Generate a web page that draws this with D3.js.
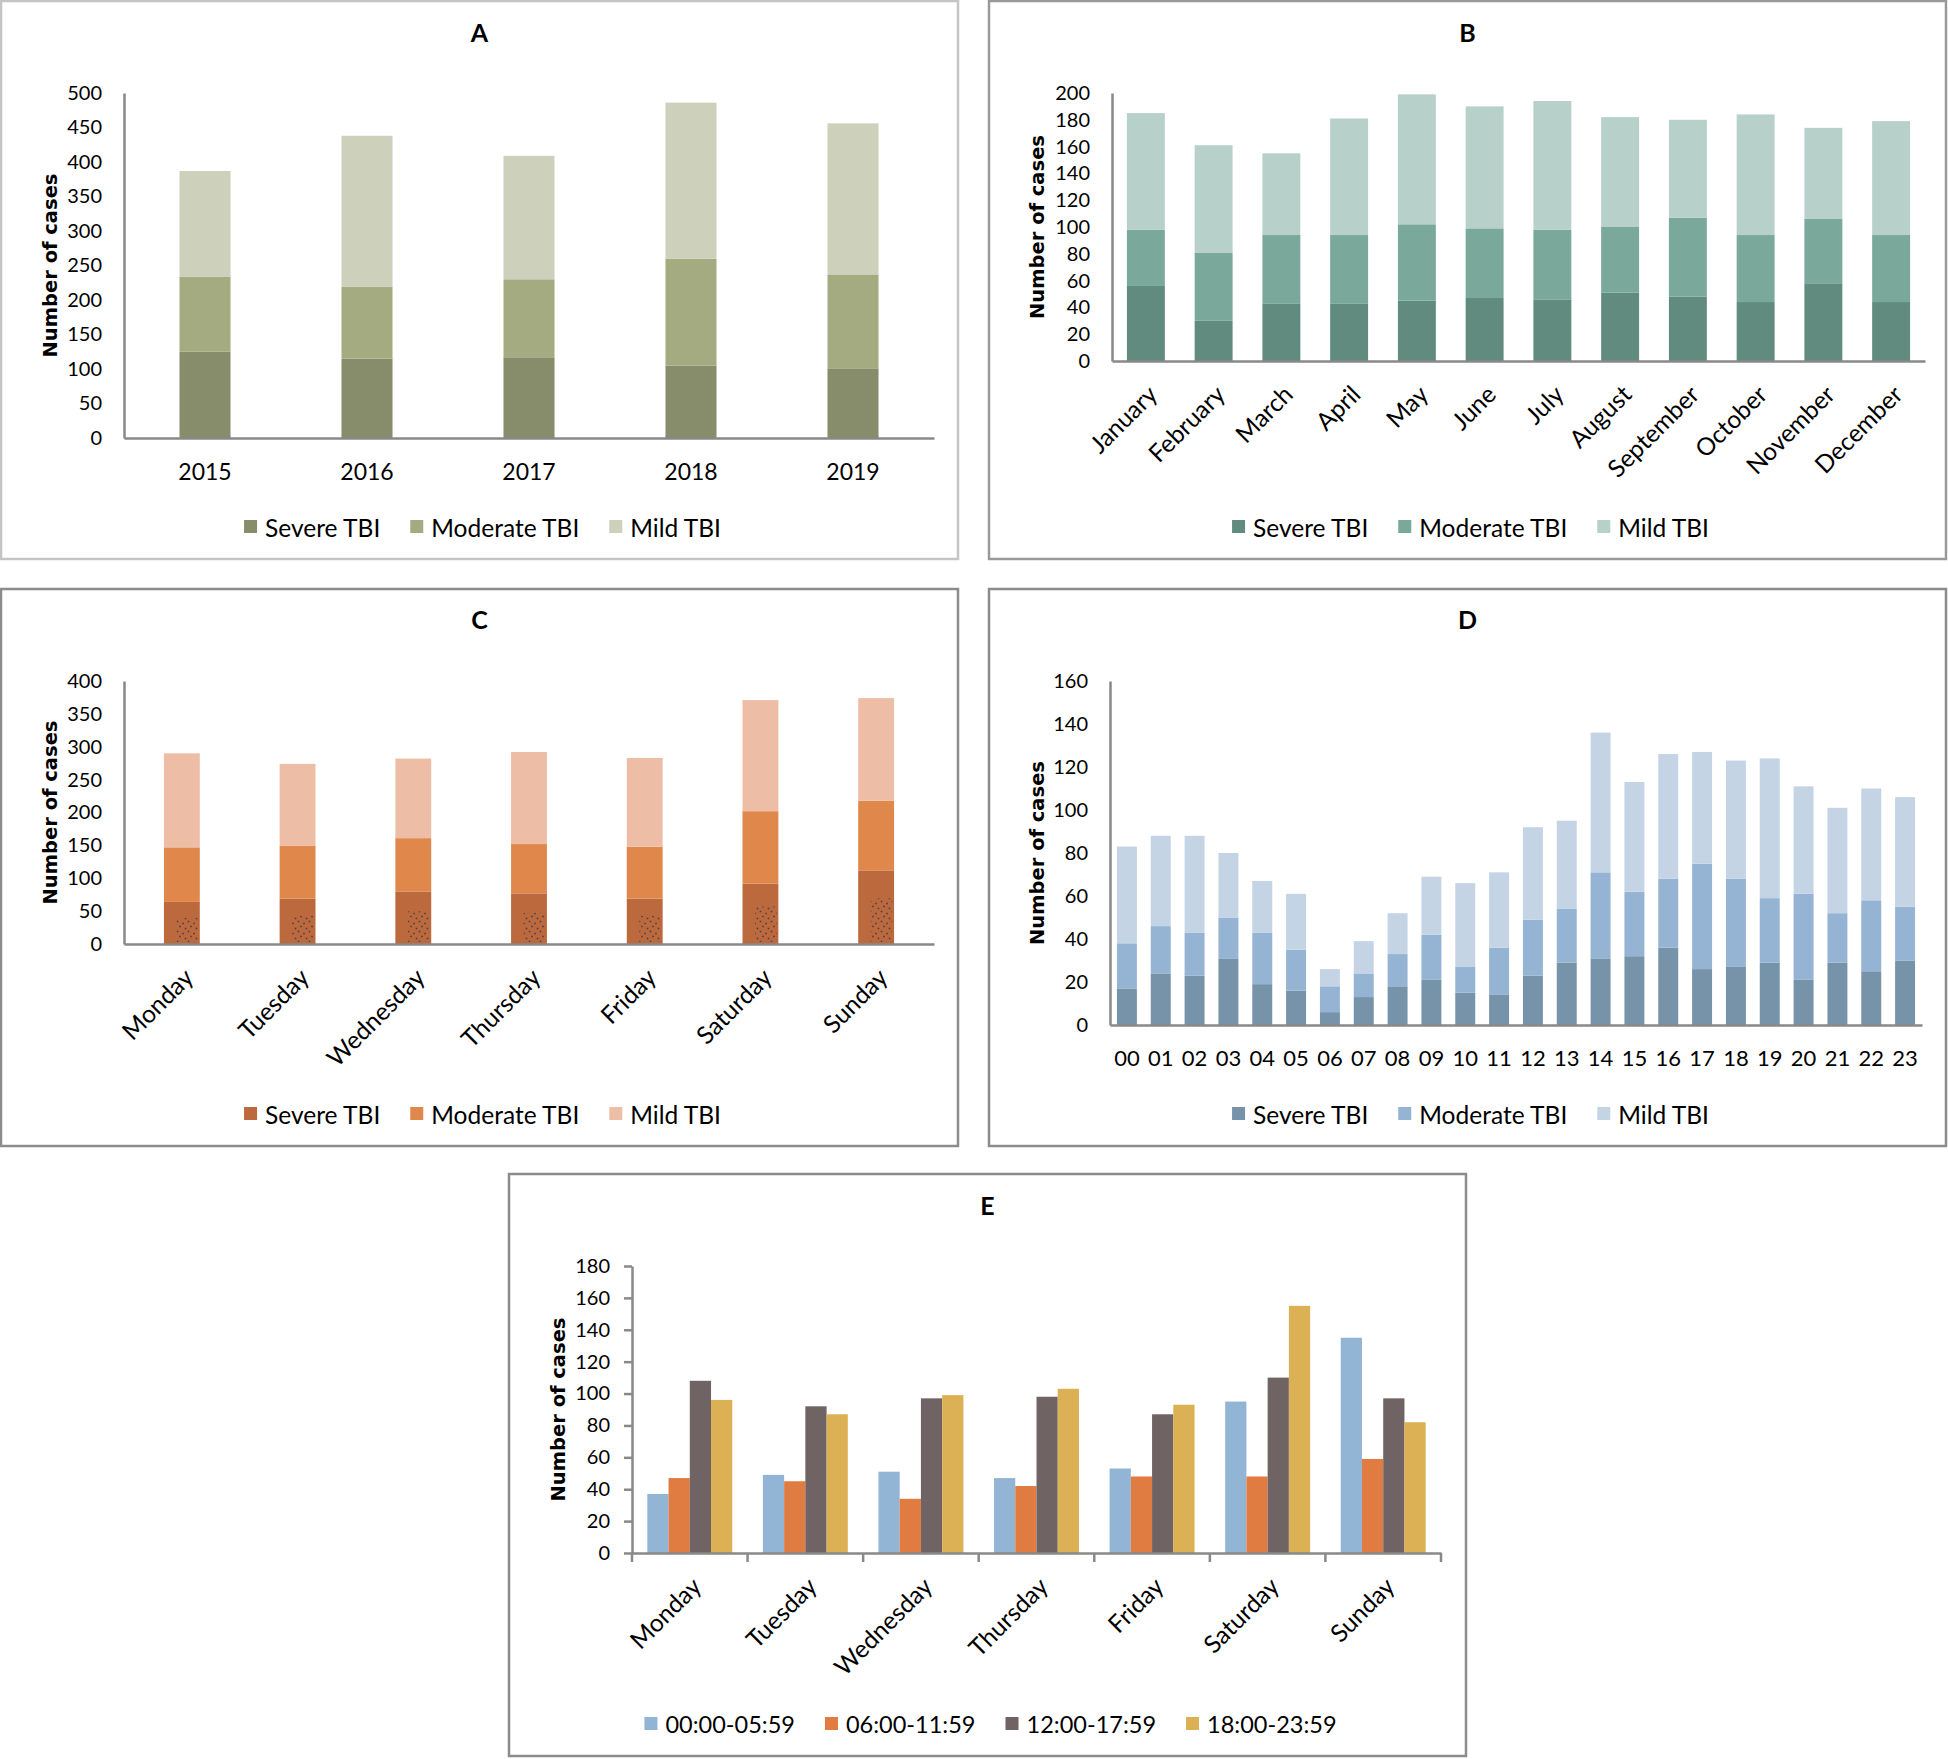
<!DOCTYPE html>
<html><head><meta charset="utf-8">
<script src="https://cdn.jsdelivr.net/npm/d3@7"></script>
<style>
body{margin:0;background:#fff}
text{fill:#000}
</style>
</head><body>
<svg id="c" width="1948" height="1759"></svg>
<script>
// ---------- DATA ----------
const tbiLabels = ["Severe TBI", "Moderate TBI", "Mild TBI"];

const yearCats = ["2015", "2016", "2017", "2018", "2019"];
const yearSevere = [125, 115, 117, 105, 101];
const yearModerate = [109, 104, 113, 155, 136];
const yearMild = [153, 219, 179, 226, 219];

const monthCats = ["January", "February", "March", "April", "May", "June", "July", "August", "September", "October", "November", "December"];
const monthSevere = [56, 30, 43, 43, 45, 47, 46, 51, 48, 44, 58, 44];
const monthModerate = [42, 51, 51, 51, 57, 52, 52, 49, 59, 50, 48, 50];
const monthMild = [87, 80, 61, 87, 97, 91, 96, 82, 73, 90, 68, 85];

const dayCats = ["Monday", "Tuesday", "Wednesday", "Thursday", "Friday", "Saturday", "Sunday"];
const daySevere = [64, 69, 80, 77, 69, 92, 112];
const dayModerate = [83, 80, 81, 75, 79, 110, 106];
const dayMild = [143, 125, 121, 140, 135, 169, 156];

const hourCats = ["00","01","02","03","04","05","06","07","08","09","10","11","12","13","14","15","16","17","18","19","20","21","22","23"];
const hourSevere = [17,24,23,31,19,16,6,13,18,21,15,14,23,29,31,32,36,26,27,29,21,29,25,30];
const hourModerate = [21,22,20,19,24,19,12,11,15,21,12,22,26,25,40,30,32,49,41,30,40,23,33,25];
const hourMild = [45,42,45,30,24,26,8,15,19,27,39,35,43,41,65,51,58,52,55,65,50,49,52,51];

const periodLabels = ["00:00-05:59", "06:00-11:59", "12:00-17:59", "18:00-23:59"];
const periodNight = [37, 49, 51, 47, 53, 95, 135];
const periodMorning = [47, 45, 34, 42, 48, 48, 59];
const periodAfternoon = [108, 92, 97, 98, 87, 110, 97];
const periodEvening = [96, 87, 99, 103, 93, 155, 82];

// ---------- DRAWING ----------
const FONT = "Lato,'Liberation Sans',sans-serif";
const svg = d3.select("#c");
const defs = svg.append("defs");
const pat = defs.append("pattern").attr("id","dots").attr("patternUnits","userSpaceOnUse")
  .attr("width",11).attr("height",10);
[[1.5,1.5],[7,3.5],[4,6.5],[9.5,8.5]].forEach(([cx,cy])=>
  pat.append("rect").attr("x",cx-0.8).attr("y",cy-0.8).attr("width",1.6).attr("height",1.6).attr("fill","#2b3552"));

function legend(g, labels, colors, cx, cy, fs){
  const lg = g.append("g");
  let xpos = 0;
  labels.forEach((l,i)=>{
    const it = lg.append("g").attr("transform",`translate(${xpos},0)`);
    it.append("rect").attr("x",0).attr("y",-7).attr("width",13).attr("height",13).attr("fill",colors[i]);
    const t = it.append("text").attr("x",21).attr("y",0).attr("dominant-baseline","central")
      .style("font-family",FONT).attr("font-size",fs).text(l);
    xpos += 21 + t.node().getComputedTextLength() + 30;
  });
  const total = xpos - 30;
  lg.attr("transform",`translate(${cx - total/2},${cy})`);
}

function drawPanel(cfg){
  const g = svg.append("g");
  const [bx,by,bw,bh] = cfg.box;
  g.append("rect").attr("x",bx).attr("y",by).attr("width",bw).attr("height",bh)
    .attr("fill","#fff").attr("stroke",cfg.border).attr("stroke-width",2.5);
  g.append("text").attr("x",bx+bw/2).attr("y",cfg.titleY).attr("text-anchor","middle")
    .attr("dominant-baseline","central").style("font-family",FONT)
    .attr("font-weight","bold").attr("font-size",25).text(cfg.title);

  const p = cfg.plot;
  const x = d3.scaleBand().domain(cfg.cats).range([p.l, p.r]);
  const y = d3.scaleLinear().domain([0, cfg.yMax]).range([p.b, p.t]);

  if (cfg.stacked){
    const rows = cfg.cats.map((c,i)=>{const o={cat:c}; cfg.keys.forEach((k,j)=>o[k]=cfg.series[j][i]); return o;});
    const stacked = d3.stack().keys(cfg.keys)(rows);
    const w = x.bandwidth()*cfg.barRatio;
    const off = (x.bandwidth()-w)/2;
    g.append("g").selectAll("g").data(stacked).join("g").attr("fill",(d,i)=>cfg.colors[i])
      .selectAll("rect").data(d=>d).join("rect")
      .attr("x",d=>x(d.data.cat)+off).attr("width",w)
      .attr("y",d=>y(d[1])).attr("height",d=>y(d[0])-y(d[1]));
    if (cfg.texture){
      g.append("g").selectAll("rect").data(stacked[0]).join("rect")
        .attr("x",d=>x(d.data.cat)+off+w*0.35).attr("width",w*0.6)
        .attr("y",d=>y(d[1]*0.62)).attr("height",d=>y(0)-y(d[1]*0.62)-2)
        .attr("fill","url(#dots)").attr("opacity",0.8);
    }
  } else {
    const gw = x.bandwidth()*cfg.groupRatio;
    const x1 = d3.scaleBand().domain(cfg.keys).range([0, gw]);
    const off = (x.bandwidth()-gw)/2;
    const rows = cfg.cats.map((c,i)=>cfg.keys.map((k,j)=>({cat:c,key:k,v:cfg.series[j][i],j})));
    g.append("g").selectAll("g").data(rows).join("g")
      .attr("transform",d=>`translate(${x(d[0].cat)+off},0)`)
      .selectAll("rect").data(d=>d).join("rect")
      .attr("x",d=>x1(d.key)).attr("width",x1.bandwidth())
      .attr("y",d=>y(d.v)).attr("height",d=>y(0)-y(d.v))
      .attr("fill",d=>cfg.colors[d.j]);
  }

  // y axis
  const ts = cfg.yTick || 0;
  const ya = g.append("g").attr("transform",`translate(${p.l},0)`)
    .call(d3.axisLeft(y).tickValues(d3.range(0, cfg.yMax+1, cfg.yStep)).tickSize(ts).tickSizeOuter(0).tickPadding(22-ts));
  ya.select(".domain").attr("stroke","#898989").attr("stroke-width",2.5);
  ya.selectAll(".tick line").attr("stroke","#898989").attr("stroke-width",2.5);
  ya.selectAll("text").attr("font-size",20).style("font-family",FONT).attr("fill","#000");

  // x axis
  const xa = g.append("g").attr("transform",`translate(0,${p.b})`)
    .call(d3.axisBottom(x).tickSize(0).tickSizeOuter(0));
  xa.select(".domain").attr("stroke","#898989").attr("stroke-width",2.5);
  const xt = xa.selectAll("text").attr("font-size",cfg.xFont).style("font-family",FONT).attr("fill","#000");
  if (cfg.rotate){
    xt.attr("y",0).attr("dy","0.35em").attr("text-anchor","end")
      .attr("transform","translate(7,29) rotate(-45)");
  } else {
    xt.attr("y",cfg.xLabelDy).attr("dy","0.35em");
  }
  if (cfg.sepTicks){
    g.append("g").selectAll("line").data(d3.range(cfg.cats.length+1)).join("line")
      .attr("x1",i=>p.l+i*x.step()).attr("x2",i=>p.l+i*x.step())
      .attr("y1",p.b).attr("y2",p.b+9).attr("stroke","#898989").attr("stroke-width",2.5);
  }

  // y label
  g.append("text").attr("transform",`translate(${cfg.yLabelX},${(p.t+p.b)/2}) rotate(-90)`)
    .attr("text-anchor","middle").attr("dominant-baseline","central")
    .style("font-family","'DejaVu Sans',Verdana,sans-serif").attr("font-weight","bold").attr("font-size",19.5)
    .text("Number of cases");

  legend(g, cfg.legendLabels, cfg.colors, bx+bw/2+3, cfg.legendY, cfg.legendFont || 24.5);
}

drawPanel({title:"A", box:[1,1,957,558], border:"#c4c4c4", titleY:32,
  plot:{l:124,t:93,r:934,b:438}, cats:yearCats, keys:["s","m","l"],
  series:[yearSevere, yearModerate, yearMild], colors:["#878c6b","#a4ab81","#cdd1bc"],
  stacked:true, barRatio:0.315, yMax:500, yStep:50, xFont:23, xLabelDy:34,
  yLabelX:50, legendY:527, legendLabels:tbiLabels});

drawPanel({title:"B", box:[989,1,957,558], border:"#9a9a9a", titleY:32,
  plot:{l:1112,t:93,r:1925,b:361}, cats:monthCats, keys:["s","m","l"],
  series:[monthSevere, monthModerate, monthMild], colors:["#608b7e","#7aa89b","#b8d0ca"],
  stacked:true, barRatio:0.56, yMax:200, yStep:20, xFont:24.5, rotate:true,
  yLabelX:1037, legendY:527, legendLabels:tbiLabels});

drawPanel({title:"C", box:[1,589,957,557], border:"#8c8c8c", titleY:619,
  plot:{l:124,t:681,r:934,b:944}, cats:dayCats, keys:["s","m","l"],
  series:[daySevere, dayModerate, dayMild], colors:["#bc6a3d","#e0884c","#edbda6"],
  stacked:true, texture:true, barRatio:0.31, yMax:400, yStep:50, xFont:24.5, rotate:true,
  yLabelX:50, legendY:1114, legendLabels:tbiLabels});

drawPanel({title:"D", box:[989,589,957,557], border:"#8c8c8c", titleY:619,
  plot:{l:1110,t:681,r:1922,b:1025}, cats:hourCats, keys:["s","m","l"],
  series:[hourSevere, hourModerate, hourMild], colors:["#7793aa","#95b4d3","#c4d4e5"],
  stacked:true, barRatio:0.59, yMax:160, yStep:20, xFont:22, xLabelDy:33,
  yLabelX:1037, legendY:1114, legendLabels:tbiLabels});

drawPanel({title:"E", box:[509,1174,957,582], border:"#8c8c8c", titleY:1205,
  plot:{l:632,t:1266,r:1441,b:1553}, cats:dayCats, keys:["a","b","c","d"],
  series:[periodNight, periodMorning, periodAfternoon, periodEvening],
  colors:["#93b5d5","#e07c42","#6f6363","#dcb155"],
  stacked:false, groupRatio:0.735, yMax:180, yStep:20, yTick:8, sepTicks:true, xFont:24.5, rotate:true,
  yLabelX:558, legendY:1724, legendLabels:periodLabels, legendFont:23.5});
</script>
</body></html>
